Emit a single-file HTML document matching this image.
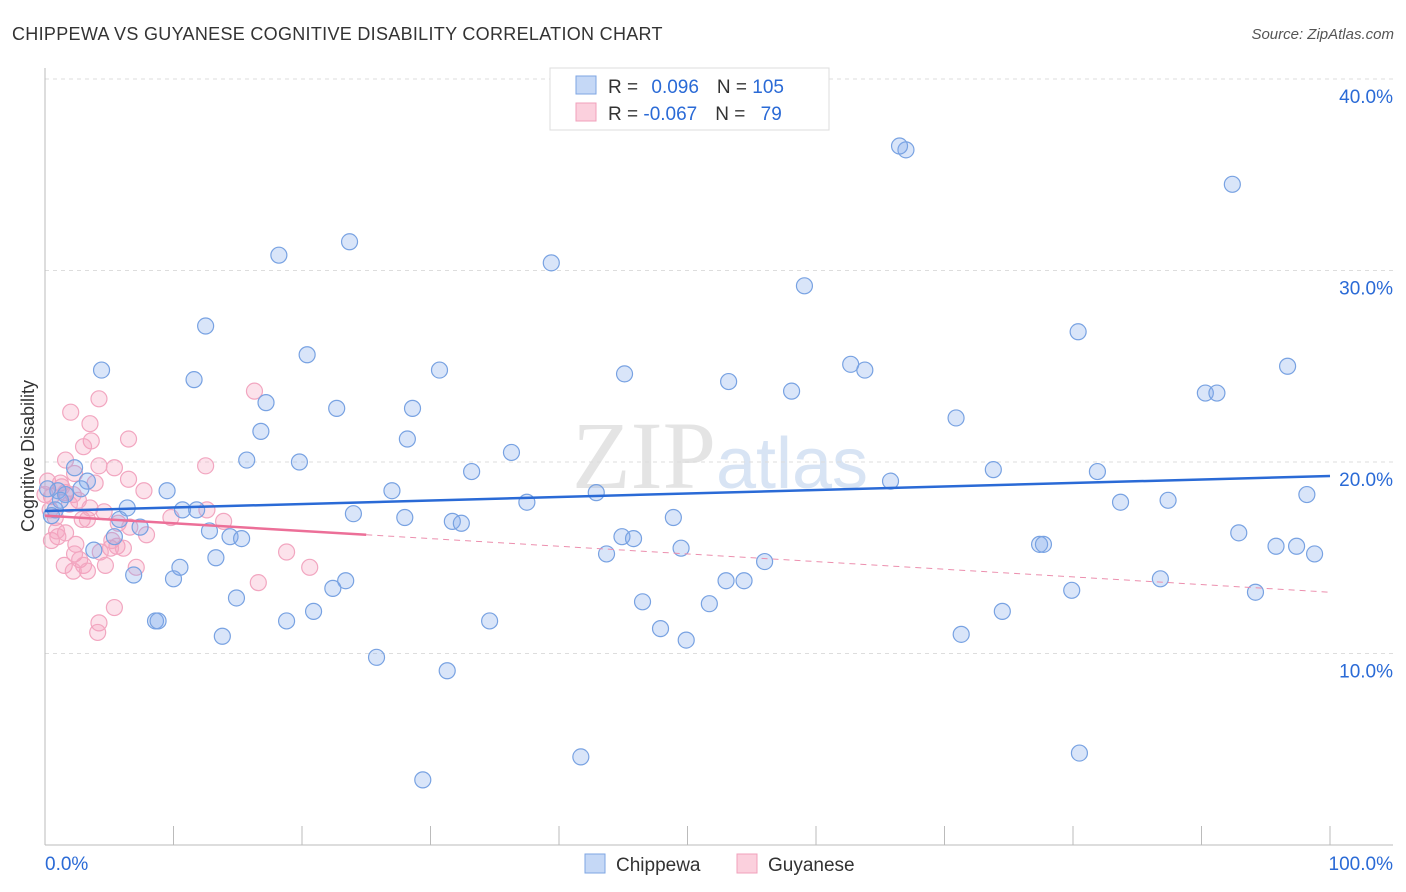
<!DOCTYPE html>
<html><head><meta charset="utf-8"><style>
body{margin:0;background:#fff;font-family:"Liberation Sans",sans-serif;}
svg{display:block}
</style></head><body>
<svg id="chart" width="1406" height="892">
<text x="12" y="40" font-size="18" fill="#333" letter-spacing="0.3">CHIPPEWA VS GUYANESE COGNITIVE DISABILITY CORRELATION CHART</text>
<text x="1394" y="39" font-size="15" fill="#555" font-style="italic" text-anchor="end">Source: ZipAtlas.com</text>
<text x="720" y="488" font-size="96" fill="#e4e4e4" text-anchor="middle" font-family="Liberation Serif">ZIP<tspan fill="#d8e4f4" font-family="Liberation Sans" font-size="72">atlas</tspan></text>
<g id="grid"></g>
<g id="axes"></g>
<g id="pts"></g>
<g id="trend"></g>
<text transform="translate(34,456) rotate(-90)" font-size="18" fill="#333" text-anchor="middle">Cognitive Disability</text>
<g>
<rect x="550" y="68" width="279" height="62" fill="#fff" stroke="#ddd"/>
<rect x="576" y="76" width="20" height="18" fill="#c5d8f6" stroke="#7ea6e3"/>
<rect x="576" y="103" width="20" height="18" fill="#fbd0dd" stroke="#f0a0bb"/>
<text x="608" y="93" font-size="19" fill="#333">R = <tspan fill="#2a6ad6" dx="8">0.096</tspan><tspan fill="#333" dx="18">N = </tspan><tspan fill="#2a6ad6">105</tspan></text>
<text x="608" y="120" font-size="19" fill="#333">R = <tspan fill="#2a6ad6">-0.067</tspan><tspan fill="#333" dx="18">N = </tspan><tspan fill="#2a6ad6" dx="10">79</tspan></text>
</g>
<g>
<rect x="585" y="854" width="20" height="19" fill="#c5d8f6" stroke="#7ea6e3"/>
<text x="616" y="871" font-size="19" fill="#333">Chippewa</text>
<rect x="737" y="854" width="20" height="19" fill="#fbd0dd" stroke="#f0a0bb"/>
<text x="768" y="871" font-size="19" fill="#333">Guyanese</text>
</g>
</svg>
<script>
const yTicks=[10,20,30,40];
const xLabels=["0.0%","100.0%"];
const blueX=[67.0,66.5,92.4,23.7,18.2,39.4,59.1,12.5,20.4,80.4,4.4,11.6,30.7,45.1,62.7,63.8,53.2,96.7,58.1,90.3,91.2,17.2,22.7,28.6,70.9,16.8,28.2,36.3,15.7,19.8,33.2,73.8,81.9,2.3,3.3,2.8,9.5,27.0,42.9,65.8,98.2,87.4,83.7,37.5,6.4,10.7,11.8,24.0,28.0,48.9,31.7,32.4,5.8,12.8,7.4,5.4,14.4,15.3,3.8,44.9,45.8,92.9,77.4,77.7,95.8,97.4,98.8,43.7,49.5,13.3,56.0,6.9,10.0,10.5,23.4,22.4,53.0,54.4,86.8,79.9,14.9,46.5,51.7,94.2,8.6,8.8,18.8,20.9,34.6,74.5,47.9,49.9,13.8,71.3,25.8,31.3,41.7,80.5,29.4,1.0,1.6,0.8,0.2,1.2,0.5];
const blueY=[36.3,36.5,34.5,31.5,30.8,30.4,29.2,27.1,25.6,26.8,24.8,24.3,24.8,24.6,25.1,24.8,24.2,25.0,23.7,23.6,23.6,23.1,22.8,22.8,22.3,21.6,21.2,20.5,20.1,20.0,19.5,19.6,19.5,19.7,19.0,18.6,18.5,18.5,18.4,19.0,18.3,18.0,17.9,17.9,17.6,17.5,17.5,17.3,17.1,17.1,16.9,16.8,17.0,16.4,16.6,16.1,16.1,16.0,15.4,16.1,16.0,16.3,15.7,15.7,15.6,15.6,15.2,15.2,15.5,15.0,14.8,14.1,13.9,14.5,13.8,13.4,13.8,13.8,13.9,13.3,12.9,12.7,12.6,13.2,11.7,11.7,11.7,12.2,11.7,12.2,11.3,10.7,10.9,11.0,9.8,9.1,4.6,4.8,3.4,18.5,18.3,17.5,18.6,18.0,17.2];
const pinkX=[16.3,4.2,2.0,3.5,6.5,3.6,3.0,1.6,4.2,5.4,12.5,2.3,6.5,0.2,1.2,3.9,7.7,2.2,0.5,1.6,2.6,3.5,12.6,4.6,0.8,2.9,3.3,9.8,13.9,5.7,6.6,1.6,1.0,7.9,2.4,5.6,6.1,5.1,18.8,0.5,4.3,2.3,2.7,1.5,3.0,4.7,7.1,20.6,2.2,3.3,16.6,5.4,4.2,4.1,0.4,1.3,0.9,1.9,5.2,0.0];
const pinkY=[23.7,23.3,22.6,22.0,21.2,21.1,20.8,20.1,19.8,19.7,19.8,19.4,19.1,19.0,18.9,18.9,18.5,18.3,18.2,18.4,18.0,17.6,17.5,17.4,17.1,17.0,17.0,17.1,16.9,16.8,16.6,16.3,16.1,16.2,15.7,15.6,15.5,15.5,15.3,15.9,15.3,15.2,14.9,14.6,14.6,14.6,14.5,14.5,14.3,14.3,13.7,12.4,11.6,11.1,17.5,18.7,16.4,17.8,15.9,18.3];
const blueTrend=[17.44,19.27];
const pinkTrend=[17.2,13.2];
const NS="http://www.w3.org/2000/svg";
const X=v=>45+v*12.85, Y=v=>845-v*19.15;
function mk(t,a,p){const e=document.createElementNS(NS,t);for(const k in a)e.setAttribute(k,a[k]);p.appendChild(e);return e;}
const grid=document.getElementById('grid'),axes=document.getElementById('axes'),pts=document.getElementById('pts'),tr=document.getElementById('trend');
yTicks.forEach(t=>{
 const l=mk('line',{x1:45,x2:1393,y1:Y(t),y2:Y(t),stroke:'#ddd','stroke-dasharray':'4,4'},grid);
 
 
 const tx=mk('text',{x:1393,y:Y(t)+24,'font-size':19,fill:'#2a6ad6','text-anchor':'end'},grid);
 tx.textContent=t.toFixed(1)+'%';
 
 
});
mk('line',{x1:45,x2:45,y1:68,y2:845,stroke:'#bbb'},axes);
mk('line',{x1:45,x2:1393,y1:845,y2:845,stroke:'#bbb'},axes);
for(let i=0;i<=10;i++){mk('line',{x1:X(i*10),x2:X(i*10),y1:826,y2:845,stroke:'#bbb'},axes);}
const xl0=mk('text',{x:45,y:870,'font-size':19,fill:'#2a6ad6'},axes);xl0.textContent=xLabels[0];


const xl1=mk('text',{x:1393,y:870,'font-size':19,fill:'#2a6ad6','text-anchor':'end'},axes);xl1.textContent=xLabels[1];


pinkX.forEach((v,i)=>{const c=mk('circle',{cx:X(v),cy:Y(pinkY[i]),r:8,fill:'rgba(244,160,190,0.3)',stroke:'#f2a6c0','stroke-width':1.2},pts);
 
 });
blueX.forEach((v,i)=>{const c=mk('circle',{cx:X(v),cy:Y(blueY[i]),r:8,fill:'rgba(130,170,235,0.3)',stroke:'#78a2e2','stroke-width':1.2},pts);
 
 });
const bl=mk('line',{x1:X(0),y1:Y(blueTrend[0]),x2:X(100),y2:Y(blueTrend[1]),stroke:'#2a6ad6','stroke-width':2.5},tr);


const pv=x=>pinkTrend[0]+(pinkTrend[1]-pinkTrend[0])*x/100;
const ps=mk('line',{x1:X(0),y1:Y(pv(0)),x2:X(25),y2:Y(pv(25)),stroke:'#ec6f98','stroke-width':2.5},tr);


const pd=mk('line',{x1:X(25),y1:Y(pv(25)),x2:X(100),y2:Y(pv(100)),stroke:'#ec8fae','stroke-width':1,'stroke-dasharray':'6,5'},tr);


</script>
</body></html>
